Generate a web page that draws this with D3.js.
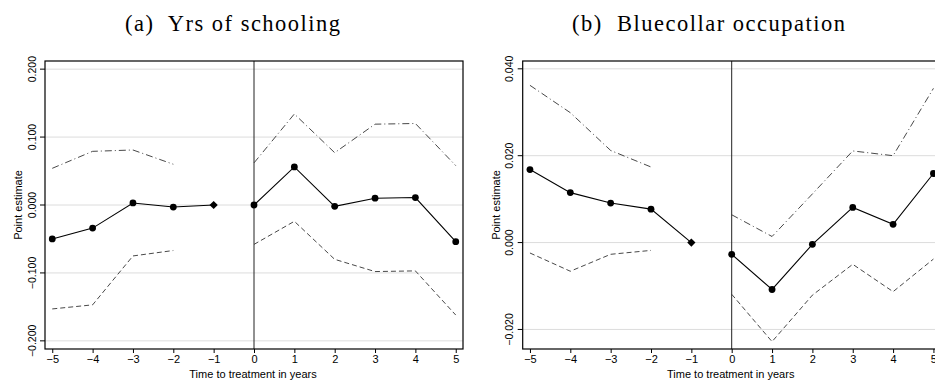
<!DOCTYPE html>
<html lang="en">
<head>
<meta charset="UTF-8" />
<title>Event study</title>
<script src="https://d3js.org/d3.v7.min.js"></script>
<style>
  body { margin: 0; background: #fff; }
  svg { display: block; }
  .tick text { font-family: "Liberation Sans", Arial, sans-serif; }
</style>
</head>
<body>
<script>
// time to treatment
var years = [-5, -4, -3, -2, -1, 0, 1, 2, 3, 4, 5];

// (a) years of schooling
var schoolEst   = [-0.050, -0.034, 0.003, -0.003, 0.000, 0.000, 0.056, -0.002, 0.010, 0.011, -0.054];
var schoolUpper = [0.054, 0.079, 0.081, 0.060, null, 0.062, 0.134, 0.077, 0.119, 0.120, 0.058];
var schoolLower = [-0.153, -0.147, -0.075, -0.067, null, -0.058, -0.024, -0.080, -0.098, -0.097, -0.162];
var schoolTicks = [-0.2, -0.1, 0, 0.1, 0.2];

// (b) bluecollar occupation
var blueEst   = [0.0168, 0.0115, 0.0091, 0.0077, 0.0000, -0.0027, -0.0108, -0.0004, 0.0081, 0.0042, 0.0159];
var blueUpper = [0.0362, 0.0299, 0.0212, 0.0174, null, 0.0064, 0.0014, 0.0112, 0.0211, 0.0200, 0.0355];
var blueLower = [-0.0024, -0.0066, -0.0027, -0.0018, null, -0.0119, -0.0228, -0.0121, -0.0050, -0.0113, -0.0038];
var blueTicks = [-0.02, 0, 0.02, 0.04];

var W = 935, H = 383;
var svg = d3.select("body").append("svg").attr("width", W).attr("height", H);

function drawPanel(cfg) {
    var left = cfg.left, right = cfg.left + 418, top = 61, bottom = 349;
    var x = d3.scaleLinear().domain([-5.18, 5.18]).range([left, right]);
    var y = d3.scaleLinear().domain(cfg.ydomain).range([bottom, top]);
    var g = svg.append("g");

    // gridlines
    g.selectAll(".grid").data(cfg.ticks).enter().append("line")
        .attr("x1", left).attr("x2", right)
        .attr("y1", function(d) { return y(d); }).attr("y2", function(d) { return y(d); })
        .attr("stroke", "#dcdcdc").attr("stroke-width", 1);

    // treatment line
    g.append("line").attr("x1", x(0)).attr("x2", x(0)).attr("y1", top).attr("y2", bottom)
        .attr("stroke", "#222").attr("stroke-width", 1);

    var rows = years.map(function(t, i) {
        return { t: t, est: cfg.est[i], up: cfg.up[i], lo: cfg.lo[i] };
    });
    var pre = rows.filter(function(d) { return d.t < 0; });
    var post = rows.filter(function(d) { return d.t >= 0; });

    function lineFor(key) {
        return d3.line()
            .defined(function(d) { return d[key] !== null; })
            .x(function(d) { return x(d.t); })
            .y(function(d) { return y(d[key]); });
    }

    [pre, post].forEach(function(seg) {
        g.append("path").attr("d", lineFor("up")(seg)).attr("fill", "none")
            .attr("stroke", "#333").attr("stroke-width", 0.9)
            .attr("stroke-dasharray", "7,3,1,3");
        g.append("path").attr("d", lineFor("lo")(seg)).attr("fill", "none")
            .attr("stroke", "#333").attr("stroke-width", 0.9)
            .attr("stroke-dasharray", "5,3");
        g.append("path").attr("d", lineFor("est")(seg)).attr("fill", "none")
            .attr("stroke", "#000").attr("stroke-width", 1.1);
    });

    // markers
    g.selectAll(".pt").data(rows.filter(function(d) { return d.t !== -1; })).enter().append("circle")
        .attr("cx", function(d) { return x(d.t); })
        .attr("cy", function(d) { return y(d.est); })
        .attr("r", 3.4).attr("fill", "#000");
    g.selectAll(".ref").data(rows.filter(function(d) { return d.t === -1; })).enter().append("path")
        .attr("d", d3.symbol().type(d3.symbolSquare).size(34))
        .attr("transform", function(d) { return "translate(" + x(d.t) + "," + y(d.est) + ") rotate(45)"; })
        .attr("fill", "#000");

    // frame
    g.append("rect").attr("x", left).attr("y", top).attr("width", right - left).attr("height", bottom - top)
        .attr("fill", "none").attr("stroke", "#000").attr("stroke-width", 1.2);

    // axes
    var xAxis = d3.axisBottom(x).tickValues(years).tickSize(4).tickPadding(2).tickFormat(d3.format("d"));
    var gx = g.append("g").attr("transform", "translate(0," + bottom + ")").call(xAxis);
    gx.select(".domain").remove();
    gx.selectAll("text").attr("font-size", "11px").attr("fill", "#000");

    var yAxis = d3.axisLeft(y).tickValues(cfg.ticks).tickSize(5).tickFormat(d3.format(".3f"));
    var gy = g.append("g").attr("transform", "translate(" + left + ",0)").call(yAxis);
    gy.select(".domain").remove();
    gy.selectAll(".tick").attr("transform", "translate(0,0)");
    gy.selectAll(".tick line")
        .attr("y1", function(d) { return y(d); }).attr("y2", function(d) { return y(d); });
    gy.selectAll("text")
        .attr("font-size", "10.5px").attr("fill", "#000")
        .attr("text-anchor", "middle")
        .attr("x", -13)
        .attr("y", function(d) { return y(d); })
        .attr("dy", "0.35em")
        .attr("transform", function(d) { return "rotate(-90," + (-13) + "," + y(d) + ")"; });

    // axis titles
    g.append("text").attr("x", (left + right) / 2 - 1).attr("y", 378)
        .attr("text-anchor", "middle")
        .attr("font-family", "Liberation Sans, Arial, sans-serif").attr("font-size", "11px")
        .text("Time to treatment in years");
    g.append("text")
        .attr("transform", "translate(" + (left - 23) + "," + ((top + bottom) / 2) + ") rotate(-90)")
        .attr("text-anchor", "middle")
        .attr("font-family", "Liberation Sans, Arial, sans-serif").attr("font-size", "11px")
        .text("Point estimate");

    // panel title
    svg.append("text").attr("x", cfg.titleX).attr("y", 31)
        .attr("text-anchor", "start")
        .attr("font-family", "Liberation Serif, 'DejaVu Serif', serif").attr("font-size", "22.5px")
        .attr("textLength", cfg.titleLen).attr("lengthAdjust", "spacing")
        .attr("xml:space", "preserve")
        .text(cfg.title);
}

drawPanel({
    left: 45, ydomain: [-0.212, 0.212], ticks: schoolTicks,
    est: schoolEst, up: schoolUpper, lo: schoolLower,
    title: "(a)  Yrs of schooling", titleX: 125, titleLen: 215
});
drawPanel({
    left: 522.7, ydomain: [-0.0245, 0.0418], ticks: blueTicks,
    est: blueEst, up: blueUpper, lo: blueLower,
    title: "(b)  Bluecollar occupation", titleX: 572, titleLen: 273
});
</script>
</body>
</html>
